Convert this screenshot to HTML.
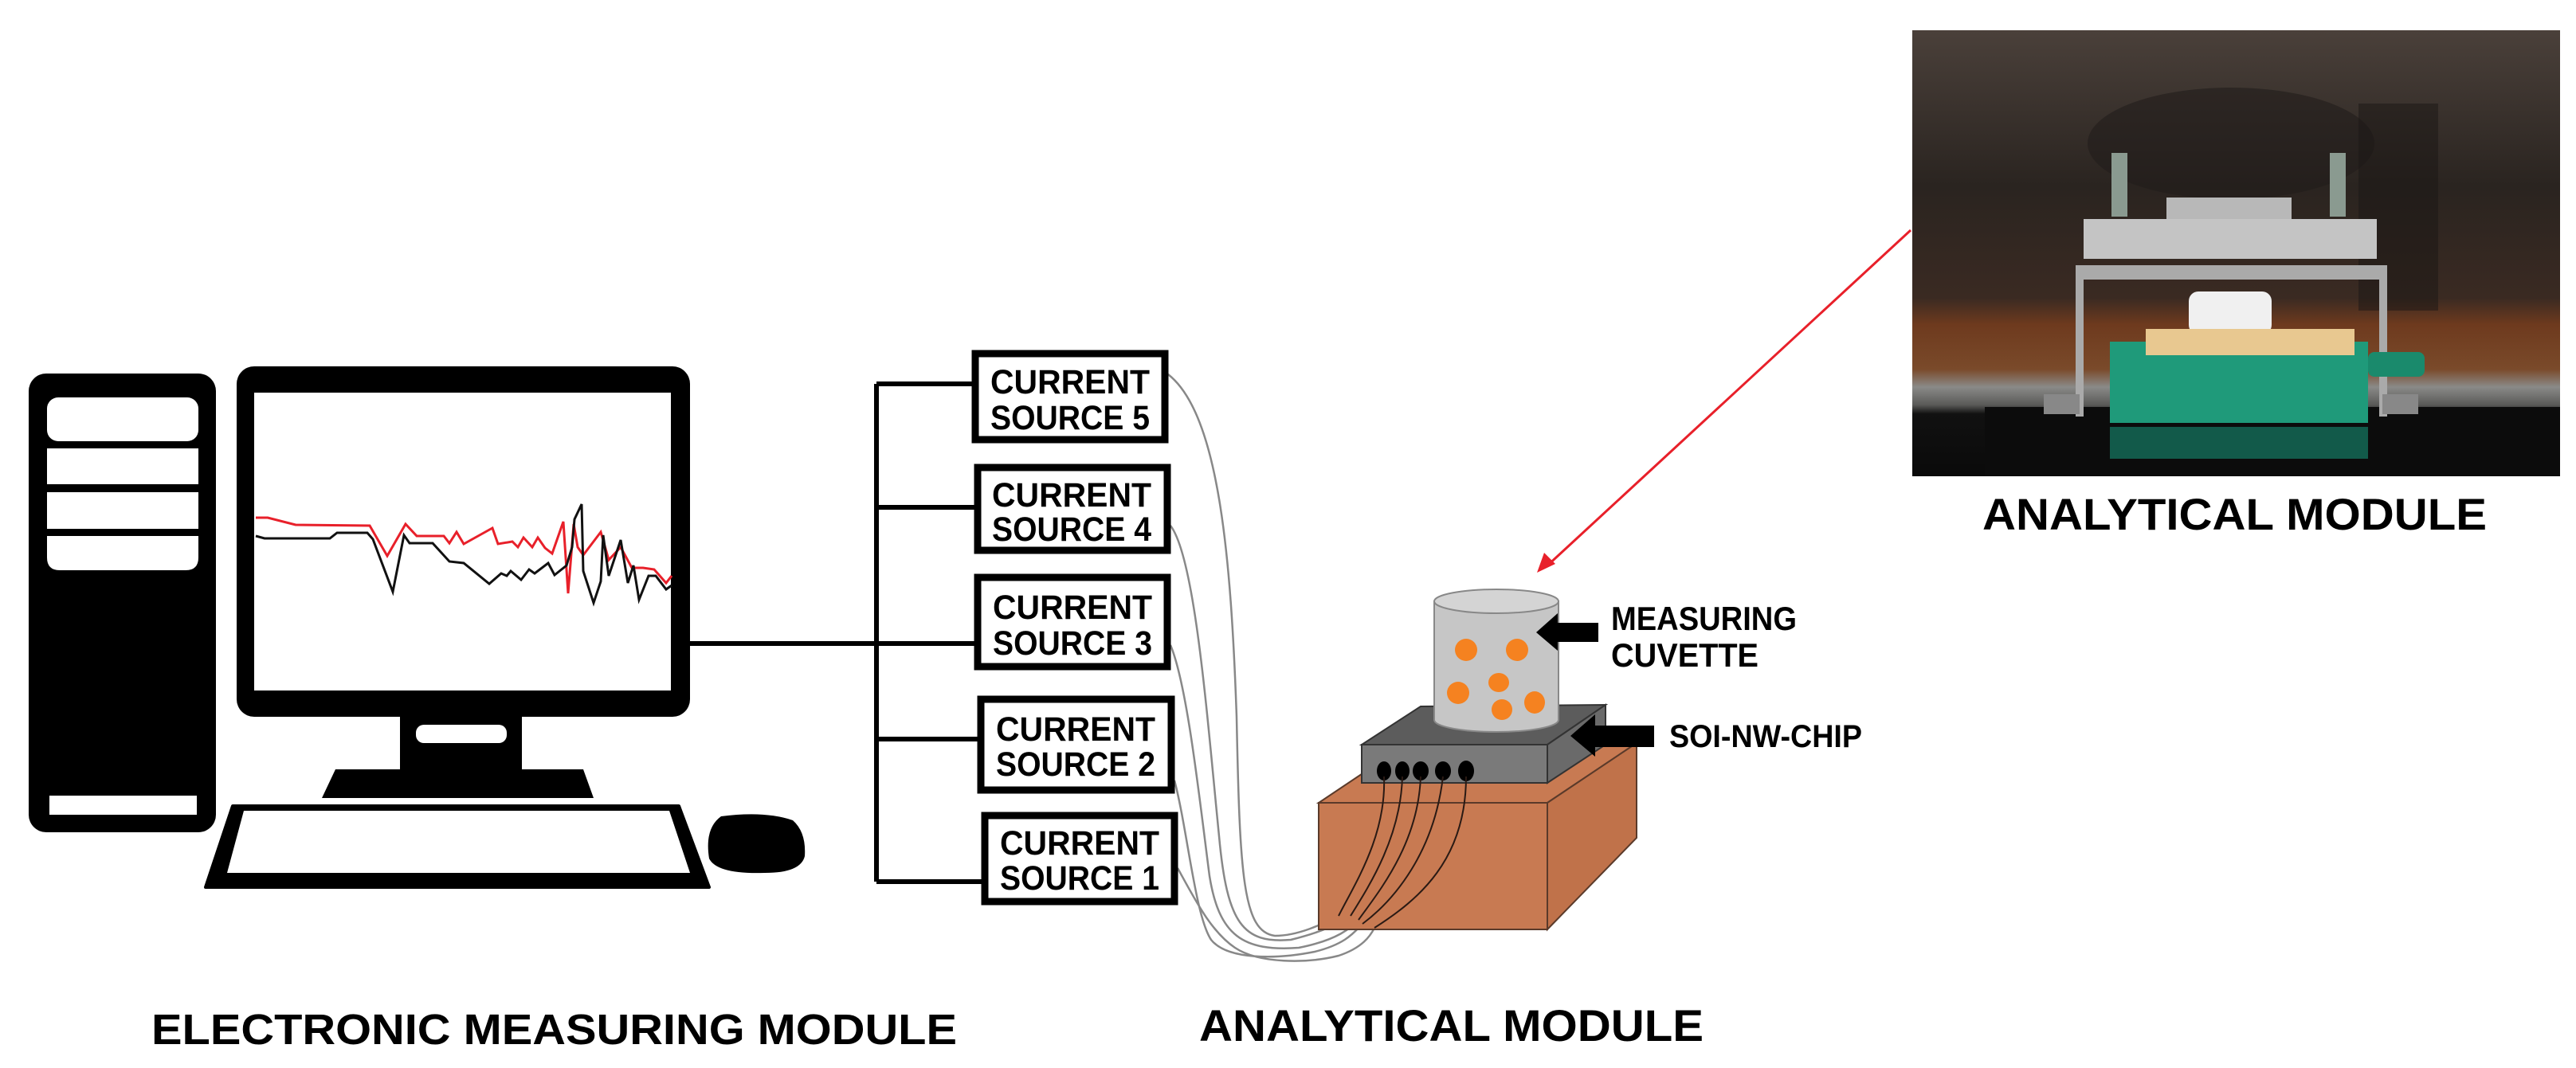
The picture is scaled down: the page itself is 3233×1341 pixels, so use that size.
<!DOCTYPE html>
<html><head><meta charset="utf-8"><style>html,body{margin:0;padding:0;background:#fff}svg{display:block}</style></head><body>
<svg width="3233" height="1341" viewBox="0 0 3233 1341" xmlns="http://www.w3.org/2000/svg" font-family="Liberation Sans, Arial, sans-serif" font-weight="bold">
<defs>
<linearGradient id="bg" x1="0" y1="0" x2="0" y2="1">
<stop offset="0" stop-color="#4a403a"/><stop offset="0.35" stop-color="#2a2420"/><stop offset="0.6" stop-color="#3a2a22"/><stop offset="0.66" stop-color="#6e3a1e"/><stop offset="0.76" stop-color="#7a4a2a"/><stop offset="0.8" stop-color="#8a8a88"/><stop offset="0.84" stop-color="#5a5a58"/><stop offset="0.86" stop-color="#111"/><stop offset="1" stop-color="#0a0a0a"/>
</linearGradient>
</defs>
<!-- Tower -->
<rect x="36" y="469" width="235" height="576" rx="22" fill="#000"/>
<rect x="59" y="499" width="190" height="55" rx="14" fill="#fff"/>
<rect x="59" y="563" width="190" height="45" fill="#fff"/>
<rect x="59" y="618" width="190" height="46" fill="#fff"/>
<path d="M59 673 H249 V700 Q249 716 233 716 H75 Q59 716 59 700 Z" fill="#fff"/>
<rect x="62" y="999" width="185" height="24" fill="#fff"/>
<!-- Monitor -->
<rect x="297" y="460" width="569" height="440" rx="22" fill="#000"/>
<rect x="319" y="493" width="523" height="374" fill="#fff"/>
<rect x="502" y="895" width="153" height="75" fill="#000"/>
<rect x="522" y="910" width="114" height="23" rx="10" fill="#fff"/>
<polygon points="421,966 732,966 745,1002 404,1002" fill="#000"/>
<polyline fill="none" stroke="#e8202a" stroke-width="3" points="321,650 336,650 371,659 464,660 486,698 509,658 523,673 557,673 564,682 573,668 582,683 618,663 625,683 643,680 650,687 657,675 668,687 675,675 684,688 693,695 707,655 713,745 720,658 725,687 732,697 754,668 764,703 779,687 793,713 807,713 821,715 836,732 843,723"/>
<polyline fill="none" stroke="#111" stroke-width="3" points="321,673 332,676 414,676 423,669 461,669 468,677 493,743 507,672 514,682 543,682 564,705 582,707 614,733 629,720 636,723 641,717 654,728 664,715 671,720 688,707 696,722 711,710 718,687 721,652 730,633 732,717 745,757 754,730 757,672 764,723 779,678 788,732 795,710 802,753 814,723 823,723 836,740 843,735"/>
<!-- Keyboard -->
<polygon points="292,1012 852,1012 890,1114 258,1114" fill="#000" stroke="#000" stroke-width="4" stroke-linejoin="round"/>
<polygon points="306,1018 840,1018 866,1096 285,1096" fill="#fff"/>
<path d="M905 1025 Q960 1018 995 1030 Q1012 1045 1010 1075 Q1005 1096 960 1096 Q900 1098 890 1078 Q884 1040 905 1025 Z" fill="#000"/>
<!-- bus -->
<g stroke="#000" stroke-width="6" fill="none">
<line x1="866" y1="808" x2="1226" y2="808"/>
<line x1="1100" y1="482" x2="1100" y2="1107"/>
<line x1="1100" y1="482" x2="1222" y2="482"/>
<line x1="1100" y1="637" x2="1225" y2="637"/>
<line x1="1100" y1="928" x2="1230" y2="928"/>
<line x1="1100" y1="1107" x2="1235" y2="1107"/>
</g>
<g fill="none" stroke="#888" stroke-width="2.5">
<path d="M1466 470 C1530 520 1545 700 1552 900 C1556 1100 1560 1170 1600 1175 C1630 1175 1660 1160 1680 1150"/>
<path d="M1469 660 C1500 700 1515 900 1530 1050 C1540 1160 1560 1185 1620 1180 C1660 1170 1680 1160 1695 1150"/>
<path d="M1469 810 C1490 860 1505 1000 1518 1100 C1530 1175 1560 1195 1630 1190 C1680 1180 1695 1165 1705 1155"/>
<path d="M1474 980 C1490 1040 1500 1150 1520 1180 C1540 1205 1600 1205 1650 1195 C1690 1185 1700 1170 1710 1160"/>
<path d="M1478 1090 C1500 1130 1520 1170 1550 1190 C1580 1210 1640 1210 1680 1200 C1710 1190 1720 1175 1725 1165"/>
</g>
<!-- block -->
<polygon points="1655,1008 1942,1008 2054,933 1767,933" fill="#c87a52" stroke="#5a3a2a" stroke-width="2"/>
<polygon points="1942,1008 2054,933 2054,1052 1942,1167" fill="#c0724a" stroke="#5a3a2a" stroke-width="2"/>
<rect x="1655" y="1008" width="287" height="159" fill="#c87a52" stroke="#5a3a2a" stroke-width="2"/>
<!-- chip -->
<polygon points="1783,887 2015,885 1942,935 1709,935" fill="#5c5c5c" stroke="#333" stroke-width="2"/>
<polygon points="1942,935 2015,885 2015,935 1942,983" fill="#6a6a6a" stroke="#333" stroke-width="2"/>
<rect x="1709" y="935" width="233" height="48" fill="#7a7a7a" stroke="#333" stroke-width="2"/>
<g fill="#000"><ellipse cx="1737" cy="968" rx="9" ry="12"/><ellipse cx="1760" cy="968" rx="9" ry="12"/><ellipse cx="1783" cy="968" rx="10" ry="12"/><ellipse cx="1811" cy="968" rx="10" ry="12"/><ellipse cx="1840" cy="968" rx="10" ry="13"/></g>
<g fill="none" stroke="#2a1a14" stroke-width="2">
<path d="M1737 975 C1740 1050 1700 1110 1680 1150"/>
<path d="M1760 975 C1758 1050 1720 1110 1695 1150"/>
<path d="M1783 975 C1780 1060 1730 1120 1705 1155"/>
<path d="M1811 975 C1800 1070 1750 1130 1710 1160"/>
<path d="M1840 975 C1840 1080 1780 1130 1725 1165"/>
</g>
<!-- cuvette -->
<path d="M1800 755 V904 A78 15 0 0 0 1956 904 V755 Z" fill="#c6c6c6" stroke="#888" stroke-width="2"/>
<ellipse cx="1878" cy="755" rx="78" ry="15" fill="#d4d4d4" stroke="#888" stroke-width="2"/>
<g fill="#f58220"><ellipse cx="1840" cy="816" rx="14" ry="14"/><ellipse cx="1904" cy="816" rx="14" ry="14"/><ellipse cx="1881" cy="857" rx="13" ry="12"/><ellipse cx="1830" cy="870" rx="14" ry="14"/><ellipse cx="1926" cy="882" rx="13" ry="14"/><ellipse cx="1885" cy="891" rx="13" ry="13"/></g>
<polygon points="1928,794 1955,770 1955,782 2006,782 2006,806 1955,806 1955,817" fill="#000"/>
<polygon points="1971,924 2002,897 2002,911 2076,911 2076,938 2002,938 2002,950" fill="#000"/>
<text x="2022" y="791" font-size="42" textLength="233" lengthAdjust="spacingAndGlyphs">MEASURING</text>
<text x="2022" y="837" font-size="42" textLength="185" lengthAdjust="spacingAndGlyphs">CUVETTE</text>
<text x="2095" y="938" font-size="40" textLength="242" lengthAdjust="spacingAndGlyphs">SOI-NW-CHIP</text>
<line x1="2398" y1="289" x2="1940" y2="712" stroke="#e8202a" stroke-width="3"/>
<polygon points="1929,719 1938,694 1952,708" fill="#e8202a"/>
<!-- boxes -->
<g fill="#fff" stroke="#000" stroke-width="9">
<rect x="1224" y="444" width="238" height="108"/>
<rect x="1227" y="587" width="238" height="104"/>
<rect x="1227" y="725" width="238" height="112"/>
<rect x="1231" y="878" width="239" height="114"/>
<rect x="1236" y="1024" width="238" height="108"/>
</g>
<g font-size="43">
<text x="1243" y="494" textLength="200" lengthAdjust="spacingAndGlyphs">CURRENT</text>
<text x="1243" y="539" textLength="200" lengthAdjust="spacingAndGlyphs">SOURCE 5</text>
<text x="1245" y="636" textLength="200" lengthAdjust="spacingAndGlyphs">CURRENT</text>
<text x="1245" y="679" textLength="200" lengthAdjust="spacingAndGlyphs">SOURCE 4</text>
<text x="1246" y="777" textLength="200" lengthAdjust="spacingAndGlyphs">CURRENT</text>
<text x="1246" y="822" textLength="200" lengthAdjust="spacingAndGlyphs">SOURCE 3</text>
<text x="1250" y="930" textLength="200" lengthAdjust="spacingAndGlyphs">CURRENT</text>
<text x="1250" y="974" textLength="200" lengthAdjust="spacingAndGlyphs">SOURCE 2</text>
<text x="1255" y="1073" textLength="200" lengthAdjust="spacingAndGlyphs">CURRENT</text>
<text x="1255" y="1117" textLength="200" lengthAdjust="spacingAndGlyphs">SOURCE 1</text>
</g>
<!-- photo -->
<rect x="2400" y="38" width="813" height="560" fill="url(#bg)"/>
<rect x="2491" y="511" width="722" height="87" fill="#0c0c0c"/>
<ellipse cx="2800" cy="180" rx="180" ry="70" fill="#221c1a" opacity="0.6"/>
<rect x="2960" y="130" width="100" height="260" fill="#1a1614" opacity="0.5"/>
<rect x="2719" y="248" width="157" height="27" fill="#b8b8b8"/>
<rect x="2650" y="192" width="20" height="80" fill="#8a9a90"/>
<rect x="2924" y="192" width="20" height="80" fill="#8a9a90"/>
<rect x="2615" y="275" width="368" height="50" fill="#c4c4c4"/>
<rect x="2609" y="333" width="383" height="18" fill="#aaa"/>
<rect x="2605" y="333" width="10" height="190" fill="#aaa"/>
<rect x="2986" y="333" width="10" height="190" fill="#aaa"/>
<rect x="2565" y="495" width="45" height="25" fill="#888"/>
<rect x="2990" y="495" width="45" height="25" fill="#888"/>
<rect x="2747" y="366" width="104" height="54" rx="12" fill="#f0f0f0"/>
<rect x="2648" y="429" width="324" height="102" fill="#1f9a7a"/>
<rect x="2972" y="442" width="71" height="31" rx="8" fill="#1a8a6c"/>
<rect x="2693" y="413" width="262" height="33" fill="#e8c890"/>
<rect x="2648" y="536" width="324" height="40" fill="#125a4a"/>
<text x="2488" y="665" font-size="56" textLength="633" lengthAdjust="spacingAndGlyphs">ANALYTICAL MODULE</text>
<text x="190" y="1311" font-size="54" textLength="1011" lengthAdjust="spacingAndGlyphs">ELECTRONIC MEASURING MODULE</text>
<text x="1505" y="1307" font-size="56" textLength="633" lengthAdjust="spacingAndGlyphs">ANALYTICAL MODULE</text>
</svg>
</body></html>
